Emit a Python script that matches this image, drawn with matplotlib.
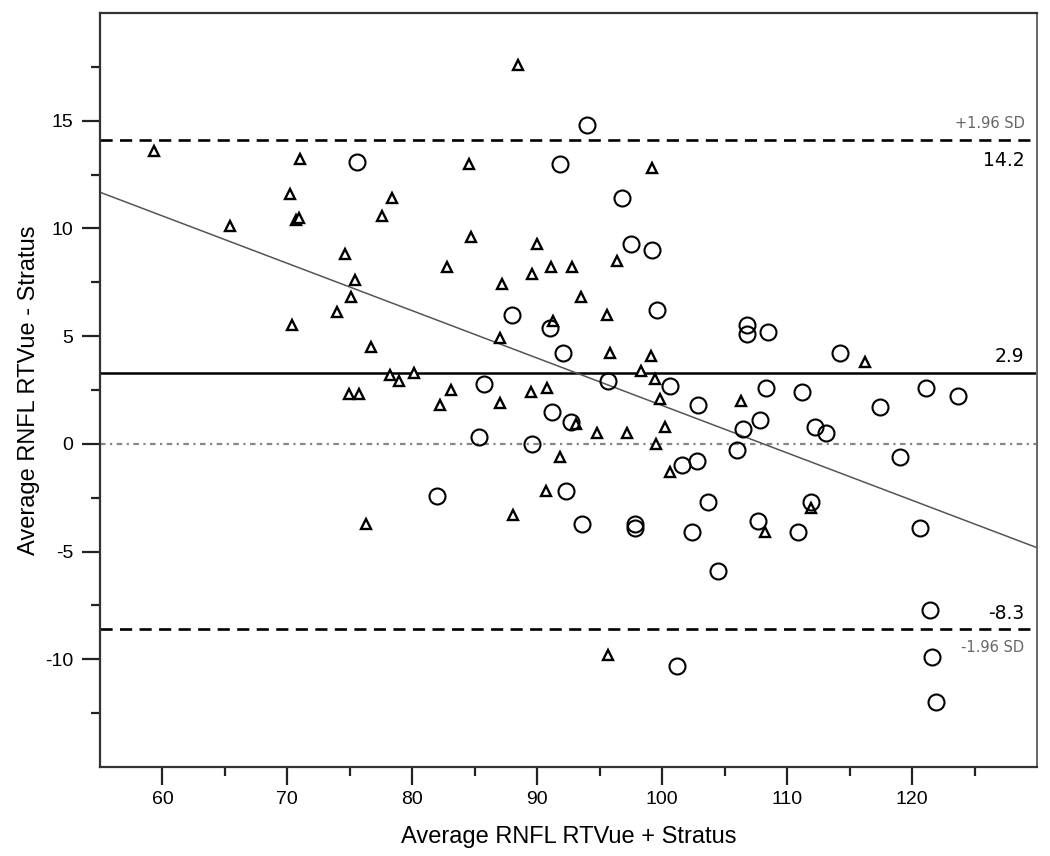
import numpy as np
import matplotlib as mpl
from matplotlib import pyplot as plt

# Bland-Altman data: (mean, difference)
tri_x = [59.3, 65.4, 70.2, 71.0, 70.7, 70.9, 70.4, 74.6, 75.4, 75.1, 74.0, 77.6,
         78.4, 84.5, 84.7, 82.8, 87.2, 87.0, 76.7, 78.2, 78.9, 80.1, 74.9, 75.7,
         83.1, 82.2, 87.0, 76.3, 88.1, 88.5, 99.2, 90.0, 91.1, 92.8, 89.6, 96.4,
         93.5, 95.6, 91.3, 95.8, 99.1, 98.3, 99.4, 89.5, 90.8, 99.8, 106.3, 93.1,
         100.2, 94.8, 97.2, 99.5, 91.8, 100.6, 90.7, 116.2, 111.9, 108.2, 95.7]
tri_y = [13.6, 10.1, 11.6, 13.2, 10.4, 10.5, 5.5, 8.8, 7.6, 6.8, 6.1, 10.6,
         11.4, 13.0, 9.6, 8.2, 7.4, 4.9, 4.5, 3.2, 2.9, 3.3, 2.3, 2.3,
         2.5, 1.8, 1.9, -3.7, -3.3, 17.6, 12.8, 9.3, 8.2, 8.2, 7.9, 8.5,
         6.8, 6.0, 5.7, 4.2, 4.1, 3.4, 3.0, 2.4, 2.6, 2.1, 2.0, 0.9,
         0.8, 0.5, 0.5, 0.0, -0.6, -1.3, -2.2, 3.8, -3.0, -4.1, -9.8]

circ_x = [75.6, 85.7, 85.3, 82.0, 88.0, 94.0, 91.8, 96.8, 97.5, 99.2, 99.6, 91.0,
          92.1, 95.7, 100.6, 106.8, 106.8, 108.5, 102.9, 91.2, 92.7, 89.6, 106.5,
          106.0, 101.6, 102.8, 92.3, 103.7, 93.6, 97.8, 97.8, 102.4, 104.5, 114.2,
          108.3, 111.2, 121.1, 123.7, 117.4, 107.8, 112.2, 113.1, 119.0, 111.9,
          107.7, 110.9, 120.6, 121.4, 121.6, 121.9, 101.2]
circ_y = [13.1, 2.8, 0.3, -2.4, 6.0, 14.8, 13.0, 11.4, 9.3, 9.0, 6.2, 5.4,
          4.2, 2.9, 2.7, 5.5, 5.1, 5.2, 1.8, 1.5, 1.0, 0.0, 0.7,
          -0.3, -1.0, -0.8, -2.2, -2.7, -3.7, -3.7, -3.9, -4.1, -5.9, 4.2,
          2.6, 2.4, 2.6, 2.2, 1.7, 1.1, 0.8, 0.5, -0.6, -2.7,
          -3.6, -4.1, -3.9, -7.7, -9.9, -12.0, -10.3]

# reference lines
mean_diff = 3.3
upper_loa = 14.1
lower_loa = -8.6
mean_label = '2.9'
upper_label = '14.2'
lower_label = '-8.3'

# regression of difference on mean
reg_intercept = 23.78
reg_slope = -0.22

plt.rcParams['font.family'] = ['Liberation Sans', 'DejaVu Sans']
plt.rcParams['axes.unicode_minus'] = False

fig = plt.figure(figsize=(10.5, 8.56), dpi=100)
ax = fig.add_axes([0.0952, 0.104, 0.8924, 0.8808])

xmin, xmax = 55, 130
ax.set_xlim(xmin, xmax)
ax.set_ylim(-15, 20)

ax.plot([xmin, xmax], [0, 0], color='#888888', lw=1.6, dashes=[2.5, 2, 1, 2])
ax.axhline(mean_diff, color='black', lw=1.8)
ax.axhline(upper_loa, color='black', lw=1.9, dashes=[4.6, 2.8])
ax.axhline(lower_loa, color='black', lw=1.9, dashes=[4.6, 2.8])

xr = np.array([xmin, xmax])
ax.plot(xr, reg_intercept + reg_slope * xr, color='#555555', lw=1.1)

ax.plot(tri_x, tri_y, linestyle='none', marker='^', ms=7.5, mfc='white',
        mec='black', mew=1.7)
ax.plot(circ_x, circ_y, linestyle='none', marker='o', ms=11.5, mfc='none',
        mec='black', mew=1.5)

# labels on the right
lab = dict(family=['DejaVu Sans'], ha='right')
ax.text(129.0, upper_loa + 0.4, '+1.96 SD', color='#666666', fontsize=10.5, va='bottom', **lab)
ax.text(129.0, upper_loa - 0.5, upper_label, color='black', fontsize=13.5, va='top', **lab)
ax.text(129.0, mean_diff + 0.3, mean_label, color='black', fontsize=13.5, va='bottom', **lab)
ax.text(129.0, lower_loa + 0.3, lower_label, color='black', fontsize=13.5, va='bottom', **lab)
ax.text(129.0, lower_loa - 0.5, '-1.96 SD', color='#666666', fontsize=10.5, va='top', **lab)

ax.set_xticks([60, 70, 80, 90, 100, 110, 120])
ax.set_xticks([65, 75, 85, 95, 105, 115, 125], minor=True)
ax.set_yticks([-10, -5, 0, 5, 10, 15])
ax.set_yticks([-12.5, -7.5, -2.5, 2.5, 7.5, 12.5, 17.5], minor=True)

ax.tick_params(which='major', direction='out', length=13, width=1.6,
               color='#222222', labelsize=14, pad=4)
ax.tick_params(which='minor', direction='out', length=6.5, width=1.6,
               color='#222222')
ax.tick_params(axis='y', which='major', pad=6)

for side in ['left', 'bottom', 'top']:
    ax.spines[side].set_color('#333333')
    ax.spines[side].set_linewidth(1.6)
ax.spines['right'].set_color('#666666')
ax.spines['right'].set_linewidth(1.4)

ax.set_xlabel('Average RNFL RTVue + Stratus', fontsize=17, labelpad=13)
ax.set_ylabel('Average RNFL RTVue - Stratus', fontsize=17, labelpad=4)

plt.savefig('out.png', dpi=100)
